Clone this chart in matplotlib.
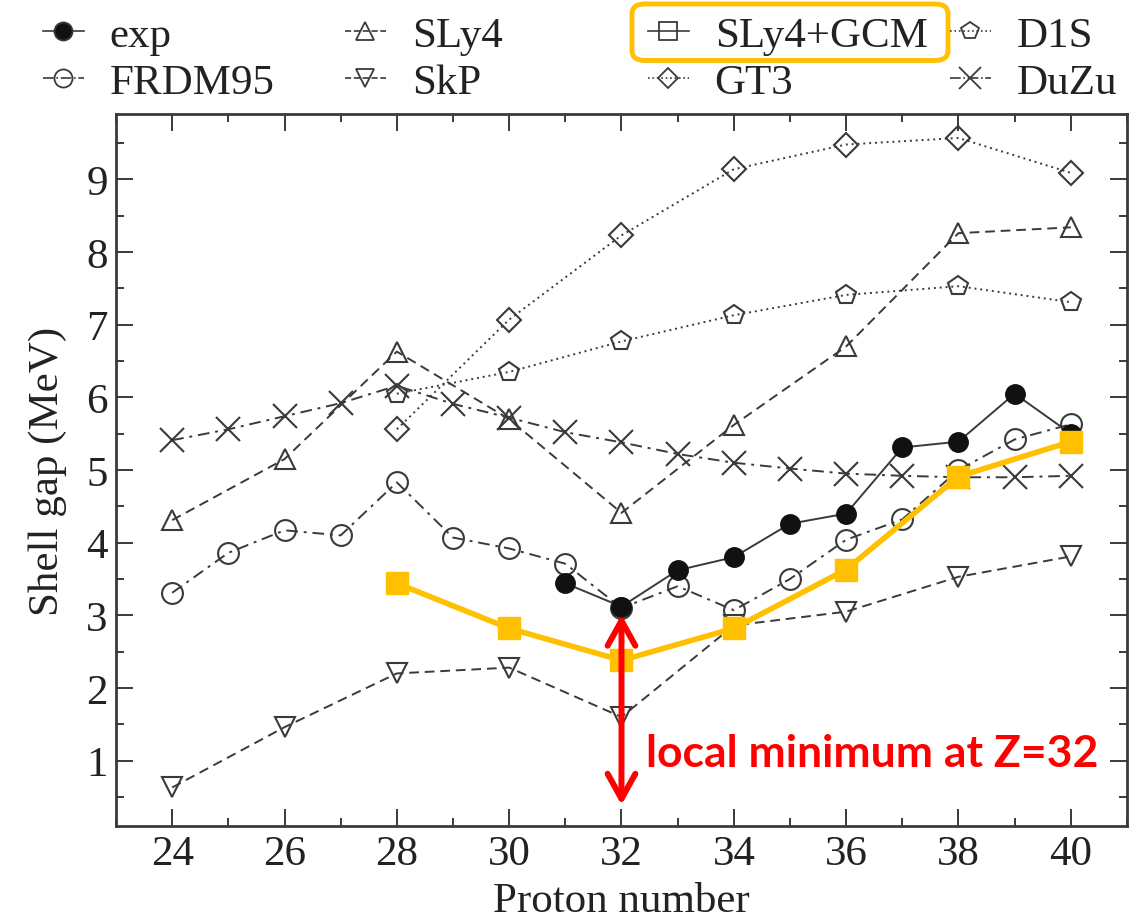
import matplotlib
matplotlib.use("Agg")
import matplotlib.pyplot as plt
from matplotlib.lines import Line2D
from matplotlib.patches import FancyBboxPatch
from matplotlib.ticker import MultipleLocator

# proton numbers
z_exp = [31, 32, 33, 34, 35, 36, 37, 38, 39, 40]
z_all = [24, 25, 26, 27, 28, 29, 30, 31, 32, 33, 34, 35, 36, 37, 38, 39, 40]
z_even = [24, 26, 28, 30, 32, 34, 36, 38, 40]
z_short = [28, 30, 32, 34, 36, 38, 40]

# shell gaps (MeV)
exp = [3.44, 3.12, 3.62, 3.80, 4.26, 4.40, 5.31, 5.39, 6.05, 5.50]
frdm95 = [3.31, 3.86, 4.17, 4.10, 4.83, 4.07, 3.92, 3.71, 3.10, 3.40, 3.07,
          3.50, 4.04, 4.32, 5.00, 5.42, 5.63]
sly4 = [4.31, 5.15, 6.63, 5.70, 4.41, 5.62, 6.70, 8.26, 8.34]
skp = [0.63, 1.46, 2.20, 2.28, 1.60, 2.86, 3.05, 3.53, 3.81]
sly4_gcm = [3.44, 2.82, 2.38, 2.82, 3.63, 4.91, 5.39]
gt3 = [5.56, 7.07, 8.23, 9.14, 9.48, 9.57, 9.09]
d1s = [6.05, 6.35, 6.77, 7.13, 7.41, 7.53, 7.31]
duzu = [5.41, 5.56, 5.74, 5.92, 6.16, 5.91, 5.72, 5.52, 5.38, 5.22, 5.10,
        5.02, 4.95, 4.92, 4.90, 4.90, 4.92]

labels = ["exp", "FRDM95", "SLy4", "SkP", "SLy4+GCM", "GT3", "D1S", "DuZu"]

ink = "#3a3a3a"
gold = "#FFC000"

plt.rcParams["font.family"] = "Liberation Serif"

fig = plt.figure(figsize=(11.34, 9.2), dpi=100)
ax = fig.add_axes([0.1023, 0.1011, 0.8915, 0.7739])

dash = (5, 3)
dashdot = (6, 3, 1.5, 3)
dot = (1, 2)
mk = dict(mfc="none", mec=ink, mew=1.5, ms=15)

ax.plot(z_even, sly4, color=ink, lw=1.4, dashes=dash, marker="^", **mk)
ax.plot(z_even, skp, color=ink, lw=1.4, dashes=dash, marker="v", **mk)
ax.plot(z_short, gt3, color=ink, lw=1.4, dashes=dot, marker="D", mfc="none",
        mec=ink, mew=1.5, ms=12)
ax.plot(z_short, d1s, color=ink, lw=1.4, dashes=dot, marker="p", **mk)
ax.plot(z_all, duzu, color=ink, lw=1.4, dashes=dashdot, marker="x",
        mec=ink, mew=1.5, ms=17)
ax.plot(z_all, frdm95, color=ink, lw=1.4, dashes=dashdot, marker="o", **mk)
ax.plot(z_exp, exp, color=ink, lw=1.4, marker="o", mfc="#111111", mec="#111111",
        ms=14, zorder=4)
ax.plot(z_short, sly4_gcm, color=gold, lw=4, marker="s", mfc=gold, mec=gold,
        ms=16, zorder=5)

ax.set_xlim(23, 41)
ax.set_ylim(0.1, 9.9)
ax.xaxis.set_major_locator(MultipleLocator(2))
ax.xaxis.set_minor_locator(MultipleLocator(1))
ax.yaxis.set_minor_locator(MultipleLocator(0.5))
ax.set_yticks(range(1, 10))
ax.tick_params(which="both", direction="in", top=True, right=True,
               color=ink, width=1.4, labelsize=31, labelcolor="#222222")
ax.tick_params(which="major", length=12, pad=6)
ax.tick_params(which="minor", length=6)
for s in ax.spines.values():
    s.set_color(ink)
    s.set_linewidth(2)

ax.set_xlabel("Proton number", fontsize=31, color="#222222", labelpad=6)
ax.set_ylabel("Shell gap (MeV)", fontsize=31, color="#222222", labelpad=14)

# red annotation at the Z=32 minimum
ax.annotate("", xy=(32, 0.39), xytext=(32, 3.01),
            arrowprops=dict(arrowstyle="<->,head_length=0.9,head_width=0.5",
                            mutation_scale=20, color="red", lw=4.3,
                            shrinkA=0, shrinkB=0), zorder=6)
ax.text(32.43, 0.92, "local minimum at Z=32", color="red", fontsize=32,
        fontweight="bold", family="Lato", va="baseline", ha="left", zorder=6)

# legend: four columns of two entries, open markers
def h(marker, ls, ms=13, mfc="none"):
    return Line2D([], [], color=ink, lw=1.2, ls=ls, marker=marker,
                  mfc=mfc, mec=ink, mew=1.3, ms=ms)

handles = [h("o", "-", mfc="#111111"), h("o", "-."), h("^", "--"), h("v", "--"),
           h("s", "-"), h("D", ":", ms=10), h("p", ":"), h("x", "-.", ms=16)]
col_x = [0.0379, 0.3042, 0.5714, 0.8377]
for i, x0 in enumerate(col_x):
    fig.legend(handles[2 * i:2 * i + 2], labels[2 * i:2 * i + 2],
               loc="upper left", bbox_to_anchor=(x0, 0.982), frameon=False,
               fontsize=31, handlelength=0.95, handletextpad=0.6,
               labelspacing=0.19, borderpad=0, borderaxespad=0,
               labelcolor="#222222")

box = FancyBboxPatch((0.5573, 0.9332), 0.2787, 0.0614, transform=fig.transFigure,
                     boxstyle="round,pad=0,rounding_size=0.011",
                     fc="none", ec=gold, lw=3.5)
fig.patches.append(box)

fig.savefig("out.png", dpi=100)
